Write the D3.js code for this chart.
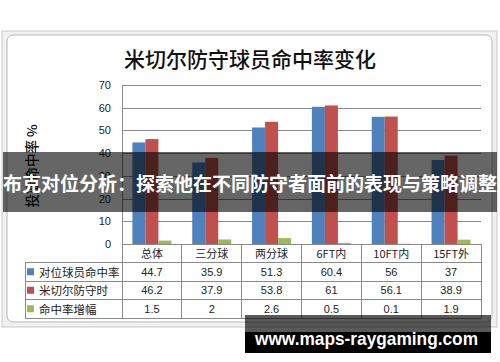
<!DOCTYPE html>
<html>
<head>
<meta charset="utf-8">
<script src="https://cdn.jsdelivr.net/npm/d3@7"></script>
<style>
  body { margin: 0; background: #fff; }
  svg { display: block; }
  text { font-family: "Liberation Sans", "Noto Sans CJK SC", sans-serif; }
  .cjk { font-family: "Noto Sans CJK SC", sans-serif; }
</style>
</head>
<body>
<svg id="chart" width="500" height="362"></svg>
<script>
// chart data
const categories = ['总体', '三分球', '两分球', '6FT内', '10FT内', '15FT外'];
const seriesNames = ['对位球员命中率', '米切尔防守时', '命中率增幅'];
const opponentFG = [44.7, 35.9, 51.3, 60.4, 56, 37];
const mitchellFG = [46.2, 37.9, 53.8, 61, 56.1, 38.9];
const fgIncrease = [1.5, 2, 2.6, 0.5, 0.1, 1.9];
const yTicks = [0, 10, 20, 30, 40, 50, 60, 70];

const seriesValues = [opponentFG, mitchellFG, fgIncrease];
const colors = ['#4F81BD', '#C0504D', '#9BBB59'];

const svg = d3.select('#chart');
const plot = { left: 122, right: 481, top: 85, bottom: 244 };
const tableLeft = 25;
const rowH = 18.5;

// frame like an excel chart object
svg.append('rect').attr('x', 2).attr('y', 31).attr('width', 495).attr('height', 296)
  .attr('fill', '#f1f1f1').attr('stroke', '#c9c9c9');
svg.append('rect').attr('x', 7).attr('y', 35).attr('width', 485).attr('height', 287)
  .attr('rx', 6).attr('fill', '#fff').attr('stroke', '#b8b8b8');

// title
svg.append('text').attr('class', 'cjk')
  .attr('x', 250).attr('y', 58)
  .attr('text-anchor', 'middle').attr('dominant-baseline', 'central')
  .attr('font-size', 21).attr('font-weight', 500).attr('fill', '#111')
  .text('米切尔防守球员命中率变化');

const x0 = d3.scaleBand().domain(categories).range([plot.left, plot.right]);
const x1 = d3.scaleBand().domain(d3.range(seriesNames.length))
  .range([0, x0.bandwidth()]).paddingOuter(0.8);
const y = d3.scaleLinear().domain([0, 70]).range([plot.bottom, plot.top]);

// gridlines + value labels
svg.append('g').selectAll('line').data(yTicks).join('line')
  .attr('x1', plot.left).attr('x2', plot.right)
  .attr('y1', d => Math.round(y(d)) + 0.5).attr('y2', d => Math.round(y(d)) + 0.5)
  .attr('stroke', '#8a8a8a').attr('stroke-width', 1);

svg.append('g').selectAll('text').data(yTicks).join('text')
  .attr('x', 111).attr('y', d => y(d))
  .attr('text-anchor', 'end').attr('dominant-baseline', 'central')
  .attr('font-size', 11).attr('fill', '#222')
  .text(d => d);

// y axis title
svg.append('text').attr('class', 'cjk')
  .attr('transform', 'translate(31,166) rotate(-90)')
  .attr('text-anchor', 'middle').attr('dominant-baseline', 'central')
  .attr('font-size', 13.5).attr('font-weight', 500).attr('fill', '#111')
  .text('投篮命中率 %');

// bars
const groups = svg.append('g').selectAll('g').data(categories).join('g')
  .attr('transform', d => `translate(${x0(d)},0)`);
groups.selectAll('rect')
  .data((c, i) => seriesValues.map((vals, s) => ({ s, v: vals[i] })))
  .join('rect')
  .attr('x', d => x1(d.s)).attr('width', x1.bandwidth())
  .attr('y', d => y(d.v)).attr('height', d => y(0) - y(d.v))
  .attr('fill', d => colors[d.s]);

// data table under the plot
const rows = d3.scaleBand().domain(d3.range(4)).range([plot.bottom, plot.bottom + 4 * rowH]);
const table = svg.append('g').attr('stroke', '#8a8a8a').attr('stroke-width', 1)
  .attr('shape-rendering', 'crispEdges');
const bounds = categories.map(c => x0(c)).concat([plot.right]);

table.append('line').attr('x1', plot.left).attr('x2', plot.left)
  .attr('y1', plot.top).attr('y2', rows.range()[1]);
bounds.slice(1).forEach(bx => {
  table.append('line').attr('x1', bx).attr('x2', bx)
    .attr('y1', plot.bottom).attr('y2', rows.range()[1]);
});
table.append('line').attr('x1', tableLeft).attr('x2', tableLeft)
  .attr('y1', rows(1)).attr('y2', rows.range()[1]);
d3.range(1, 5).forEach(r => {
  const yy = r < 4 ? rows(r) : rows.range()[1];
  table.append('line').attr('x1', tableLeft).attr('x2', plot.right)
    .attr('y1', yy).attr('y2', yy);
});

// header row
svg.append('g').selectAll('text').data(categories).join('text')
  .attr('class', 'cjk')
  .attr('x', d => x0(d) + x0.bandwidth() / 2).attr('y', rows(0) + rowH / 2)
  .attr('text-anchor', 'middle').attr('dominant-baseline', 'central')
  .attr('font-size', 11).attr('fill', '#222')
  .text(d => d);

// series rows
seriesNames.forEach((name, s) => {
  const cy = rows(s + 1) + rowH / 2;
  svg.append('rect').attr('x', 27).attr('y', cy - 3.5).attr('width', 7).attr('height', 7)
    .attr('fill', colors[s]);
  svg.append('text').attr('class', 'cjk')
    .attr('x', 39).attr('y', cy)
    .attr('dominant-baseline', 'central')
    .attr('font-size', 11.5).attr('fill', '#222')
    .text(name);
  svg.append('g').selectAll('text').data(seriesValues[s]).join('text')
    .attr('x', (d, i) => x0(categories[i]) + x0.bandwidth() / 2).attr('y', cy)
    .attr('text-anchor', 'middle').attr('dominant-baseline', 'central')
    .attr('font-size', 11).attr('fill', '#222')
    .text(d => d);
});

// overlay banner
svg.append('rect').attr('x', 3).attr('y', 152).attr('width', 494).attr('height', 60)
  .attr('fill', '#000').attr('fill-opacity', 0.6);
svg.append('text').attr('class', 'cjk')
  .attr('x', 250).attr('y', 182)
  .attr('text-anchor', 'middle').attr('dominant-baseline', 'central')
  .attr('font-size', 19).attr('font-weight', 'bold').attr('fill', '#fff')
  .attr('textLength', 494).attr('lengthAdjust', 'spacingAndGlyphs')
  .text('布克对位分析：探索他在不同防守者面前的表现与策略调整');

// watermark
svg.append('rect').attr('x', 245).attr('y', 315).attr('width', 246).attr('height', 17)
  .attr('fill', '#000').attr('fill-opacity', 0.65);
svg.append('rect').attr('x', 245).attr('y', 332).attr('width', 246).attr('height', 21)
  .attr('fill', '#000');
svg.append('text')
  .attr('x', 255).attr('y', 345)
  .attr('font-family', '"DejaVu Sans", sans-serif')
  .attr('font-size', 19).attr('font-weight', 'bold').attr('fill', '#fff')
  .attr('textLength', 223).attr('lengthAdjust', 'spacingAndGlyphs')
  .text('www.maps-raygaming.com');
</script>
</body>
</html>
